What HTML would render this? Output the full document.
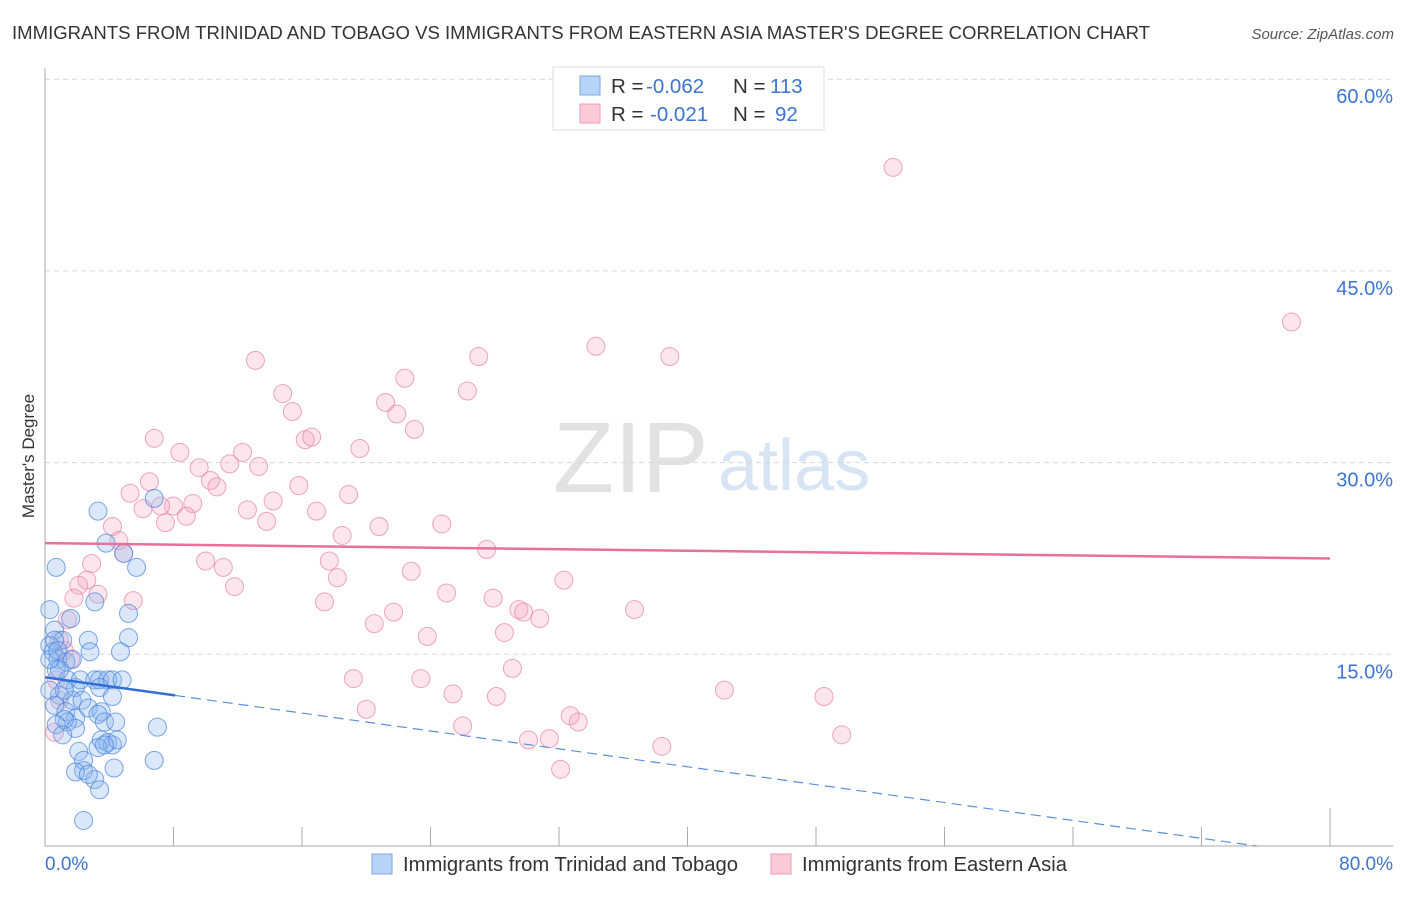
<!DOCTYPE html>
<html><head><meta charset="utf-8"><style>
body{margin:0;background:#fff;font-family:"Liberation Sans",sans-serif;}
svg text{font-family:"Liberation Sans",sans-serif;}
</style></head><body>
<svg id="chart" width="1406" height="892" xmlns="http://www.w3.org/2000/svg">
<text x="12" y="39" font-size="18" fill="#333" textLength="1138" lengthAdjust="spacingAndGlyphs">IMMIGRANTS FROM TRINIDAD AND TOBAGO VS IMMIGRANTS FROM EASTERN ASIA MASTER'S DEGREE CORRELATION CHART</text>
<text x="1394" y="39" font-size="15" fill="#555" font-style="italic" text-anchor="end">Source: ZipAtlas.com</text>
<text x="34" y="456" font-size="17" fill="#333" text-anchor="middle" transform="rotate(-90 34 456)">Master's Degree</text>
<g><text x="553" y="492" font-size="100" fill="#e2e2e2" font-family="Liberation Serif">ZIP</text><text x="718" y="490" font-size="72" fill="#d6e4f4">atlas</text></g>
<g id="grid"></g><g id="axes"></g><g id="pts"></g><g id="trends"></g>
<g>
<rect x="553" y="67" width="271" height="63" fill="#fff" stroke="#ddd"/>
<rect x="580" y="76" width="20" height="19" fill="#b7d3f6" stroke="#7aa7e6"/>
<rect x="580" y="104" width="20" height="19" fill="#fbcad8" stroke="#f09ab5"/>
<text x="611" y="93" font-size="20.5" fill="#333">R = <tspan x="646" fill="#3c74d2">-0.062</tspan><tspan x="733">N = </tspan><tspan x="770" fill="#3c74d2">113</tspan></text>
<text x="611" y="121" font-size="20.5" fill="#333">R = <tspan x="650" fill="#3c74d2">-0.021</tspan><tspan x="733">N = </tspan><tspan x="775" fill="#3c74d2">92</tspan></text>
</g>
<g>
<rect x="372" y="854" width="20" height="20" fill="#b7d3f6" stroke="#7aa7e6"/>
<text x="403" y="871" font-size="20" fill="#333" textLength="335" lengthAdjust="spacingAndGlyphs">Immigrants from Trinidad and Tobago</text>
<rect x="771" y="854" width="20" height="20" fill="#fbcad8" stroke="#f09ab5"/>
<text x="802" y="871" font-size="20" fill="#333" textLength="265" lengthAdjust="spacingAndGlyphs">Immigrants from Eastern Asia</text>
</g>
</svg>
<script>
const yTicks=[15,30,45,60];
const yTickLabels=["15.0%","30.0%","45.0%","60.0%"];
const xTicks=[0,8,16,24,32,40,48,56,64,72,80];
const blueX=[3.3,6.8,3.8,4.9,5.7,0.7,3.1,5.2,0.3,0.6,1.6,1.1,2.7,5.2,4.7,0.3,0.5,0.8,1.3,1.7,2.8,0.7,1.4,1.9,2.2,3.1,3.4,3.9,4.2,4.8,3.4,0.9,1.7,2.3,4.2,0.6,1.3,2.7,3.5,1.9,1.4,1.2,3.3,3.7,4.4,7.0,1.9,3.5,3.9,4.2,4.5,3.3,2.1,2.4,3.7,6.8,2.4,3.1,1.9,2.7,4.3,3.4,2.4,0.9,0.3,0.6,0.8,1.2,0.3,0.7,1.1];
const blueY=[26.2,27.2,23.7,22.9,21.8,21.8,19.1,18.2,18.5,16.9,17.8,16.1,16.1,16.3,15.2,15.7,15.2,14.6,14.4,14.6,15.2,13.8,13.0,12.4,13.0,13.0,13.0,13.0,13.0,13.0,12.4,11.8,11.4,11.4,11.7,11.0,10.5,10.8,10.5,10.0,9.7,9.9,10.3,9.7,9.7,9.3,9.2,8.3,8.1,7.9,8.3,7.7,7.4,6.7,7.9,6.7,5.9,5.2,5.8,5.6,6.1,4.4,2.0,13.8,14.6,16.1,15.3,12.2,12.2,9.5,8.7];
const pinkX=[52.8,77.6,13.1,34.3,38.9,27.0,14.8,22.4,26.3,21.2,21.9,15.4,23.0,16.2,16.6,6.8,8.4,19.6,12.3,9.6,11.5,13.3,10.3,10.7,6.5,15.8,5.3,18.9,8.0,9.2,7.2,12.6,6.1,8.8,14.2,16.9,13.8,7.5,4.2,18.5,20.8,24.7,4.6,27.5,4.9,10.0,2.9,17.7,11.1,22.8,32.3,2.6,18.2,11.8,2.1,1.8,3.3,5.5,25.0,27.9,17.4,29.5,29.8,30.8,36.7,21.7,20.5,1.4,28.6,23.8,29.1,19.2,23.4,25.4,28.1,42.3,48.5,20.0,32.7,33.2,26.0,49.6,30.1,31.4,38.4,32.1,0.6,0.9,0.7,1.2,0.9,1.6];
const pinkY=[53.1,41.0,38.0,39.1,38.3,38.3,35.4,36.6,35.6,34.7,33.8,34.0,32.6,31.8,32.0,31.9,30.8,31.1,30.8,29.6,29.9,29.7,28.6,28.1,28.5,28.2,27.6,27.5,26.6,26.8,26.6,26.3,26.4,25.8,27.0,26.2,25.4,25.3,25.0,24.3,25.0,25.2,23.9,23.2,22.9,22.3,22.1,22.3,21.8,21.5,20.8,20.8,21.0,20.3,20.4,19.4,19.7,19.2,19.8,19.4,19.1,18.5,18.3,17.8,18.5,18.3,17.4,17.7,16.7,16.4,13.9,13.1,13.1,11.9,11.7,12.2,11.7,10.7,10.2,9.7,9.4,8.7,8.3,8.4,7.8,6.0,8.9,11.4,13.0,15.3,16.1,14.6];
const pinkTrend=[23.7,22.5];
const blueTrend=[13.2,-0.175];
const NS='http://www.w3.org/2000/svg';
const sx=v=>45+v*(1285/80);
const sy=v=>846-v*12.78;
function mk(tag,attrs,parent){const e=document.createElementNS(NS,tag);for(const k in attrs)e.setAttribute(k,attrs[k]);document.getElementById(parent).appendChild(e);return e;}
yTicks.forEach((t,i)=>{
 const g=mk('line',{x1:45,x2:1393,y1:sy(t),y2:sy(t),stroke:'#d8d8d8','stroke-dasharray':'5,4'},'grid');
 
 
 const l=mk('text',{x:1393,y:sy(t)+24,'font-size':20,fill:'#3c74d2','text-anchor':'end'},'grid');
 l.textContent=yTickLabels[i];
 
 
});
const ya=mk('line',{x1:45,x2:45,y1:68,y2:846,stroke:'#aaa'},'axes');


const xa=mk('line',{x1:45,x2:1393,y1:846,y2:846,stroke:'#aaa'},'axes');


xTicks.forEach((t,i)=>{
 const k=mk('line',{x1:sx(t),x2:sx(t),y1:(i==xTicks.length-1?808:827),y2:846,stroke:'#aaa'},'axes');
 
 
});
const x0=mk('text',{x:45,y:870,'font-size':19,fill:'#3c74d2'},'axes');x0.textContent='0.0%';


const x1=mk('text',{x:1393,y:870,'font-size':19,fill:'#3c74d2','text-anchor':'end'},'axes');x1.textContent='80.0%';


pinkX.forEach((v,i)=>{
 const c=mk('circle',{cx:sx(v),cy:sy(pinkY[i]),r:9,fill:'rgba(245,160,190,0.28)',stroke:'rgba(232,130,165,0.7)','stroke-width':1},'pts');
 
 
});
blueX.forEach((v,i)=>{
 const c=mk('circle',{cx:sx(v),cy:sy(blueY[i]),r:9,fill:'rgba(140,185,240,0.32)',stroke:'rgba(70,130,220,0.7)','stroke-width':1},'pts');
 
 
});
const pt=mk('line',{x1:sx(0),y1:sy(pinkTrend[0]),x2:sx(80),y2:sy(pinkTrend[1]),stroke:'#e8709a','stroke-width':2.5},'trends');


const bEnd=-blueTrend[0]/blueTrend[1];
const bs=mk('line',{x1:sx(0),y1:sy(blueTrend[0]),x2:sx(8.1),y2:sy(blueTrend[0]+blueTrend[1]*8.1),stroke:'#2f6fd6','stroke-width':2.5},'trends');


const bd=mk('line',{x1:sx(8.1),y1:sy(blueTrend[0]+blueTrend[1]*8.1),x2:sx(bEnd),y2:sy(0),stroke:'#5b8fdc','stroke-width':1.2,'stroke-dasharray':'10,6'},'trends');


</script>
</body></html>
